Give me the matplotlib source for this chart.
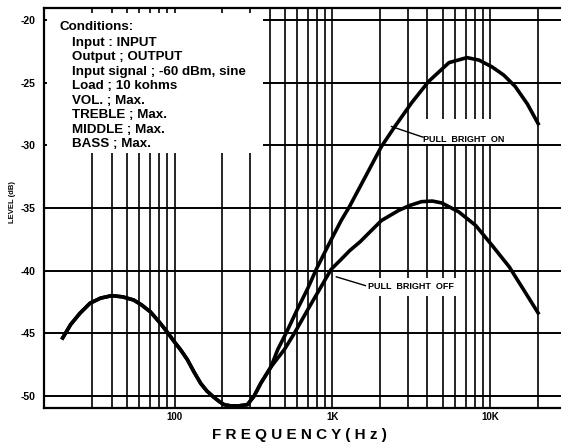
import matplotlib
matplotlib.use("Agg")
import matplotlib.pyplot as plt
from matplotlib.patches import Rectangle

plt.rcParams["font.family"] = ["Liberation Sans", "DejaVu Sans"]

# PULL BRIGHT OFF curve (Hz, dB)
off_freq = [19.3, 22, 25.2, 29.2, 34, 40.1, 47, 55.1, 62, 70.4, 80, 89.8, 100, 109, 120.5, 133, 146.5,
            160, 177, 192, 206, 227, 255, 290, 320, 352, 408, 450, 497, 575, 700, 830, 983, 1138,
            1290, 1500, 1768, 2050, 2630, 3100, 3670, 4300, 4930, 6300, 8100, 10300, 13200, 16800, 20400]
off_db = [-45.5, -44.3, -43.4, -42.6, -42.2, -42.0, -42.1, -42.35, -42.75, -43.3, -44.1, -44.9, -45.7,
          -46.3, -47.1, -48.1, -49.0, -49.6, -50.1, -50.45, -50.7, -50.8, -50.8, -50.7, -50.0,
          -49.0, -47.7, -47.0, -46.3, -45.0, -43.1, -41.5, -39.9, -39.1,
          -38.4, -37.7, -36.8, -36.0, -35.2, -34.8, -34.5, -34.45, -34.6, -35.3, -36.4, -38.0, -39.7, -41.8, -43.5]

# PULL BRIGHT ON curve (Hz, dB)
on_freq = [19.3, 22, 25.2, 29.2, 34, 40.1, 47, 55.1, 62, 70.4, 80, 89.8, 100, 109, 120.5, 133, 146.5,
           160, 177, 192, 206, 227, 255, 290, 320, 352, 408, 451, 509, 600, 700, 791, 950, 1138,
           1283, 1574, 2046, 2490, 3183, 4074, 5485, 7130, 8500, 10300, 12200, 14400, 17200, 20400]
on_db = [-45.5, -44.3, -43.4, -42.6, -42.2, -42.0, -42.1, -42.35, -42.75, -43.3, -44.1, -44.9, -45.7,
         -46.3, -47.1, -48.1, -49.0, -49.6, -50.1, -50.45, -50.7, -50.8, -50.8, -50.7, -50.0,
         -49.0, -47.7, -46.3, -45.0, -43.1, -41.4, -39.9, -37.9, -36.0,
         -34.9, -32.8, -30.1, -28.5, -26.6, -24.9, -23.4, -23.0, -23.2, -23.75, -24.4, -25.3, -26.7, -28.4]

grid_freqs = [30, 40, 50, 60, 70, 80, 90, 100, 200, 300, 400, 500, 600, 700, 800, 900,
              1000, 2000, 3000, 4000, 5000, 6000, 7000, 8000, 9000, 10000, 20000]
level_ticks = [-20, -25, -30, -35, -40, -45, -50]
freq_ticks = [100, 1000, 10000]
freq_labels = ["100", "1K", "10K"]

conditions = ["Input : INPUT", "Output ; OUTPUT", "Input signal ; -60 dBm, sine", "Load ; 10 kohms",
              "VOL. ; Max.", "TREBLE ; Max.", "MIDDLE ; Max.", "BASS ; Max."]

fig = plt.figure(figsize=(5.61, 4.45), dpi=100)
ax = fig.add_axes([44 / 561, 37 / 445, 1 - 44 / 561 + 0.01, 400 / 445])
ax.set_xscale("log")
ax.set_xlim(14.9, 30500)
ax.set_ylim(-50.97, -19.04)

for f in grid_freqs:
    ax.axvline(f, color="black", lw=1.2, zorder=1)
for lv in level_ticks:
    ax.axhline(lv, color="black", lw=1.4, zorder=1)

ax.plot(off_freq, off_db, color="black", lw=2.6, zorder=4, solid_capstyle="butt")
ax.plot(on_freq, on_db, color="black", lw=2.6, zorder=4, solid_capstyle="butt")

# blank areas of the chart paper behind the texts
ax.add_patch(Rectangle((15.6, -30.6), 363 - 15.6, 11.16, facecolor="white", edgecolor="none", zorder=2))
ax.add_patch(Rectangle((3450, -29.9), 12900 - 3450, 2.0, facecolor="white", edgecolor="none", zorder=2))
ax.add_patch(Rectangle((1570, -42.0), 6430 - 1570, 1.4, facecolor="white", edgecolor="none", zorder=2))

ax.text(18.8, -20.8, "Conditions:", fontsize=9.6, fontweight="bold", va="baseline", zorder=3)
for i, line in enumerate(conditions):
    ax.text(22.4, -22.07 - 1.157 * i, line, fontsize=9.6, fontweight="bold", va="baseline", zorder=3)

ax.plot([2370, 3750], [-28.5, -29.35], color="black", lw=1.0, zorder=4)
ax.text(6800, -29.5, "PULL  BRIGHT  ON", fontsize=6.5, fontweight="bold", ha="center", va="center", zorder=3)
ax.plot([1060, 1620], [-40.5, -41.2], color="black", lw=1.0, zorder=4)
ax.text(3170, -41.3, "PULL  BRIGHT  OFF", fontsize=6.5, fontweight="bold", ha="center", va="center", zorder=3)

ax.set_yticks(level_ticks)
ax.set_yticklabels([str(v) for v in level_ticks], fontsize=7.5, fontweight="bold")
ax.set_xticks(freq_ticks)
ax.set_xticklabels(freq_labels, fontsize=7, fontweight="bold")
ax.minorticks_off()
ax.tick_params(axis="both", length=0)
ax.tick_params(axis="y", pad=6)
ax.tick_params(axis="x", pad=3)

for s in ["left", "bottom", "top"]:
    ax.spines[s].set_linewidth(1.6)
ax.spines["right"].set_visible(False)

fig.text(13 / 561, 1 - 202 / 445, "LEVEL (dB)", rotation=90, fontsize=5.5, fontweight="bold",
         ha="center", va="center")
fig.text(299 / 561, 1 - 435 / 445, "F R E Q U E N C Y ( H z )", fontsize=11, fontweight="bold",
         ha="center", va="center")

fig.savefig("out.png", dpi=100)
